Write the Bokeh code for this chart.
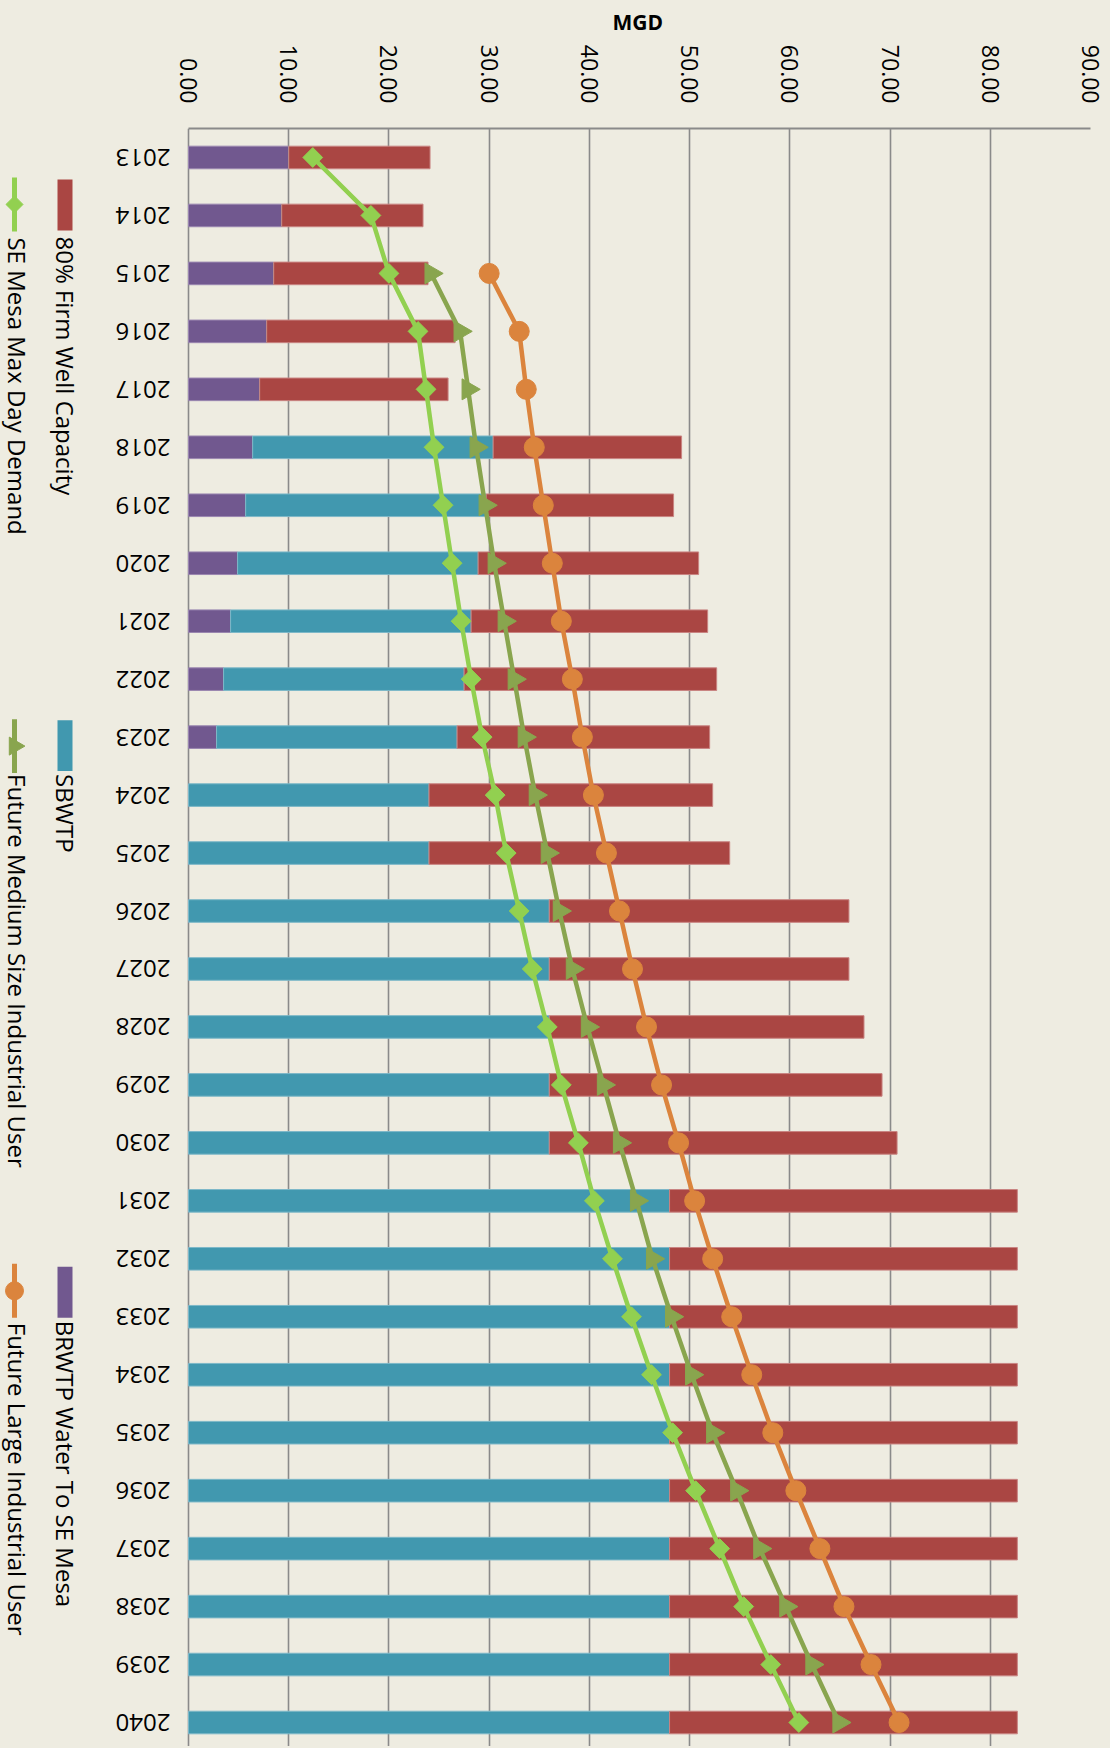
import math
from bokeh.plotting import figure
from bokeh.models import Range1d, FixedTicker
from bokeh.embed import file_html
from bokeh.resources import INLINE
from bokeh.core.properties import value

# ---------------- data ----------------
years = list(range(2013, 2041))
year_labels = [str(y) for y in years]

value_ticks = [0, 10, 20, 30, 40, 50, 60, 70, 80, 90]
value_tick_labels = ["0.00", "10.00", "20.00", "30.00", "40.00",
                     "50.00", "60.00", "70.00", "80.00", "90.00"]
axis_title = "MGD"

# stacked bar segments (MGD)
brwtp = [10.0, 9.3, 8.5, 7.8, 7.1, 6.4, 5.7, 4.9, 4.2, 3.5, 2.8,
         0, 0, 0, 0, 0, 0, 0, 0, 0, 0, 0, 0, 0, 0, 0, 0, 0]
sbwtp = [0, 0, 0, 0, 0, 24.0, 24.0, 24.0, 24.0, 24.0, 24.0, 24.0, 24.0,
         36.0, 36.0, 36.0, 36.0, 36.0,
         48.0, 48.0, 48.0, 48.0, 48.0, 48.0, 48.0, 48.0, 48.0, 48.0]
well80 = [14.1, 14.1, 15.4, 18.8, 18.8, 18.8, 18.7, 22.0, 23.6, 25.2, 25.2,
          28.3, 30.0, 29.9, 29.9, 31.4, 33.2, 34.7,
          34.7, 34.7, 34.7, 34.7, 34.7, 34.7, 34.7, 34.7, 34.7, 34.7]

nan = float("nan")
se_mesa = [12.4, 18.2, 20.0, 22.9, 23.7, 24.5, 25.4, 26.3, 27.2, 28.2, 29.3,
           30.6, 31.7, 33.0, 34.3, 35.8, 37.2, 38.9, 40.5, 42.3, 44.2, 46.2,
           48.3, 50.6, 53.0, 55.4, 58.1, 60.9]
medium_user = [nan, nan, 24.2, 27.1, 27.9, 28.7, 29.6, 30.5, 31.5, 32.5, 33.5,
               34.6, 35.8, 37.0, 38.3, 39.8, 41.4, 43.0, 44.7, 46.3, 48.2, 50.2,
               52.3, 54.7, 57.0, 59.6, 62.2, 64.9]
large_user = [nan, nan, 30.0, 33.0, 33.7, 34.5, 35.4, 36.3, 37.2, 38.3, 39.3,
              40.4, 41.7, 43.0, 44.3, 45.7, 47.2, 48.9, 50.5, 52.3, 54.2, 56.2,
              58.3, 60.6, 63.0, 65.4, 68.1, 70.9]

bar_names = ["80% Firm  Well Capacity", "SBWTP", "BRWTP Water To SE Mesa"]
line_names = ["SE Mesa Max Day Demand", "Future Medium Size Industrial User",
              "Future Large Industrial User"]

# ---------------- style / layout ----------------
BG = "#EEECE1"
C_PURPLE = "#71588F"
C_TEAL = "#4198AF"
C_RED = "#AA4643"
C_LGREEN = "#92D050"
C_OLIVE = "#89A54E"
C_ORANGE = "#DB843D"
GRID = "#8A8A8A"
FONT = "Open Sans"

W, H = 1108, 1746          # figure size
FRAME_TOP = 127            # px from figure top
FRAME_W = 1090             # frame width (frame starts at figure left)
VAL_X0 = 188               # px from frame left to value 0
PPU = 902 / 90.0           # px per MGD
ROW = 58.0                 # px per year
y_top = 2012.5
y_bot = y_top + (H - FRAME_TOP) / ROW
x_lo = -VAL_X0 / PPU

p = figure(width=W, height=H, x_range=Range1d(x_lo, 90),
           y_range=Range1d(y_bot, y_top), title=axis_title,
           x_axis_location="above", y_axis_location=None,
           output_backend="svg", toolbar_location=None,
           min_border_left=0, min_border_right=W - FRAME_W,
           min_border_top=FRAME_TOP, min_border_bottom=0,
           background_fill_color=BG, border_fill_color=BG,
           outline_line_color=None)

# "MGD" centred over the value axis (0..90)
p.title.align = "left"
p.title.offset = VAL_X0 + 902 / 2 - 27
p.title.text_font = FONT
p.title.text_font_style = "bold"
p.title.text_font_size = "21px"
p.title.text_color = "#000000"
p.title.text_line_height = 0.85
p.title.standoff = 11

# helpers: frame pixel -> data (for legend / label placement only)
def fx(px):
    return x_lo + px / PPU

def fy(py):
    return y_top + py / ROW

# stacked horizontal bars
right1 = [a for a in brwtp]
right2 = [a + b for a, b in zip(brwtp, sbwtp)]
right3 = [a + b + c for a, b, c in zip(brwtp, sbwtp, well80)]
bh = 0.39
p.hbar(y=years, left=[0.0] * len(years), right=right1, height=bh,
       fill_color=C_PURPLE, line_color="#9A86B0", line_width=1)
p.hbar(y=years, left=right1, right=right2, height=bh, fill_color=C_TEAL,
       line_color="#7DB8C8", line_width=1)
p.hbar(y=years, left=right2, right=right3, height=bh, fill_color=C_RED,
       line_color="#C98482", line_width=1)

# series lines
p.line(se_mesa, years, line_color=C_LGREEN, line_width=4.5)
p.scatter(se_mesa, years, marker="square", angle=math.pi / 4, size=14,
          fill_color=C_LGREEN, line_color=C_LGREEN)
p.line(medium_user, years, line_color=C_OLIVE, line_width=4.5)
p.scatter(medium_user, years, marker="triangle", angle=-math.pi / 2, size=21,
          fill_color=C_OLIVE, line_color=C_OLIVE)
p.line(large_user, years, line_color=C_ORANGE, line_width=4.5)
p.scatter(large_user, years, marker="circle", size=20,
          fill_color=C_ORANGE, line_color=C_ORANGE)

# value axis (top)
xa = p.xaxis[0]
xa.bounds = (0, 90)
xa.ticker = FixedTicker(ticks=value_ticks)
xa.major_label_overrides = dict(zip(value_ticks, value_tick_labels))
xa.major_label_orientation = -math.pi / 2
xa.major_label_standoff = 25
xa.major_label_text_font = FONT
xa.major_label_text_font_size = "23px"
xa.major_label_text_color = "#000000"
xa.major_tick_line_color = None
xa.major_tick_out = 0
xa.major_tick_in = 0
xa.minor_tick_line_color = None
xa.minor_tick_out = 0
xa.axis_line_color = GRID
xa.axis_line_width = 2

p.xgrid.ticker = FixedTicker(ticks=value_ticks)
p.xgrid.grid_line_color = GRID
p.xgrid.grid_line_width = 1.6
p.ygrid.visible = False

# year labels (upside down, right-aligned next to the value axis origin)
p.text(x=[fx(VAL_X0 - 18)] * len(years), y=years, text=year_labels,
       angle=math.pi, text_align="left", text_baseline="middle",
       text_font=value(FONT), text_font_size="24px", text_color="#000000")

# ---------------- legend (rotated) ----------------
# bar swatches (inner column)
sw_top = [51, 592, 1139]
sw_len = 51
txt_a = [108, 646, 1193]
colA = 65          # frame px of column centre
p.rect(x=[fx(colA - 0.5)] * 3, y=[fy(t + sw_len / 2) for t in sw_top],
       width=15 / PPU, height=sw_len / ROW,
       fill_color=[C_RED, C_TEAL, C_PURPLE], line_color=None)
p.text(x=[fx(colA)] * 3, y=[fy(t) for t in txt_a], text=bar_names,
       angle=-math.pi / 2, text_align="left", text_baseline="middle",
       text_font=value(FONT), text_font_size="24px", text_color="#000000")

# line swatches (outer column)
colB_line = 14
colB_text = 17
ln_top = [49, 591, 1136]
ln_len = 54
txt_b = [109, 646, 1195]
cols = [C_LGREEN, C_OLIVE, C_ORANGE]
for t, c in zip(ln_top, cols):
    p.line(x=[fx(colB_line), fx(colB_line)], y=[fy(t), fy(t + ln_len)],
           line_color=c, line_width=5)
mk = [fy(t + ln_len / 2) for t in ln_top]
p.scatter(x=[fx(colB_line)], y=[mk[0]], marker="square", angle=math.pi / 4,
          size=12, fill_color=C_LGREEN, line_color=C_LGREEN)
p.scatter(x=[fx(colB_line)], y=[mk[1]], marker="triangle", angle=-math.pi / 2,
          size=18, fill_color=C_OLIVE, line_color=C_OLIVE)
p.scatter(x=[fx(colB_line)], y=[mk[2]], marker="circle", size=18,
          fill_color=C_ORANGE, line_color=C_ORANGE)
p.text(x=[fx(colB_text)] * 3, y=[fy(t) for t in txt_b], text=line_names,
       angle=-math.pi / 2, text_align="left", text_baseline="middle",
       text_font=value(FONT), text_font_size="24px", text_color="#000000")

html = file_html(p, INLINE)
html = html.replace("</head>", "<style>body{background:#EEECE1;}</style></head>", 1)
open("out.html", "w").write(html)
